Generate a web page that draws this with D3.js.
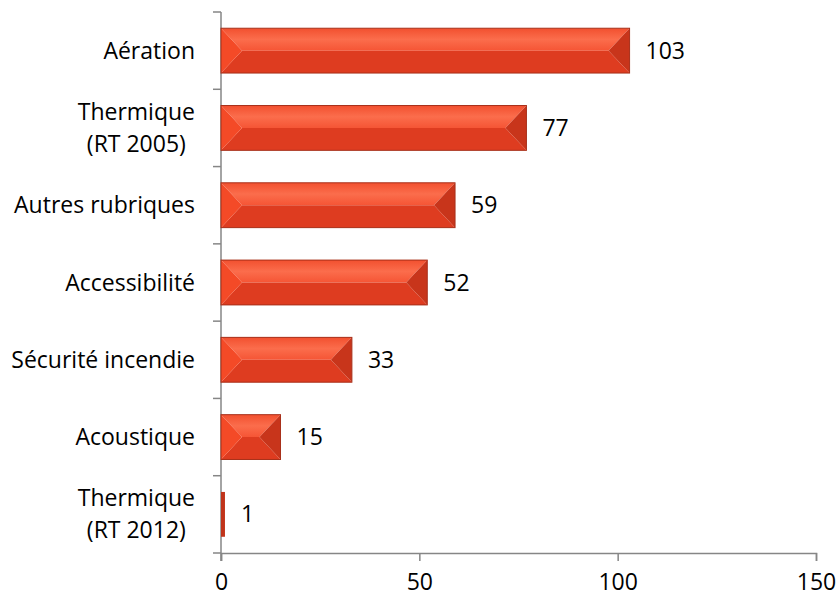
<!DOCTYPE html>
<html>
<head>
<meta charset="utf-8">
<script src="https://cdn.jsdelivr.net/npm/d3@7"></script>
<style>
  body { margin: 0; background: #fff; }
  #chart-wrapper { width: 838px; height: 598px; }
</style>
</head>
<body>
<div id="chart-wrapper"></div>
<script>
// Data
const categories = [["Aération"], ["Thermique", "(RT 2005)"], ["Autres rubriques"], ["Accessibilité"],
  ["Sécurité incendie"], ["Acoustique"], ["Thermique", "(RT 2012)"]]
const values = [103, 77, 59, 52, 33, 15, 1]
const xTicks = [0, 50, 100, 150]

const width = 838
const height = 598
const margin = {top: 12, left: 221, right: 22, bottom: 45}
const font = "'Open Sans', sans-serif"
const fontSize = 23

const svg = d3.select("#chart-wrapper").append("svg")
  .attr("width", width).attr("height", height)

const keys = categories.map(c => c.join(" "))
const xScale = d3.scaleLinear().domain([0, 150]).range([margin.left, width - margin.right])
const yScale = d3.scaleBand().domain(keys).range([margin.top, height - margin.bottom]).paddingInner(0.42).paddingOuter(0.21)
const step = yScale.step()

// Axes
const axisColor = "#868686"
const xAxis = svg.append("g")
  .attr("transform", `translate(0,${height - margin.bottom})`)
  .call(d3.axisBottom(xScale).tickValues(xTicks).tickSizeInner(8).tickSizeOuter(8).tickPadding(13))
xAxis.selectAll("line,path").attr("stroke", axisColor).attr("stroke-width", 1.5)
xAxis.selectAll("text").attr("font-size", fontSize).attr("font-family", font).attr("fill", "#000")

// y axis line with ticks at band edges
const yAxis = svg.append("g")
yAxis.append("line")
  .attr("x1", margin.left).attr("x2", margin.left)
  .attr("y1", margin.top).attr("y2", height - margin.bottom + 8)
  .attr("stroke", axisColor).attr("stroke-width", 1.5)
d3.range(keys.length + 1).forEach(i => {
  const y = margin.top + i * step
  yAxis.append("line").attr("x1", margin.left - 8).attr("x2", margin.left)
    .attr("y1", y).attr("y2", y).attr("stroke", axisColor).attr("stroke-width", 1.5)
})

// Category labels: multi-line labels are centred inside a right-aligned block
const labelRight = margin.left - 26
categories.forEach((lines, i) => {
  const cy = yScale(keys[i]) + yScale.bandwidth() / 2
  const t = svg.append("text")
    .attr("font-size", fontSize).attr("font-family", font).attr("fill", "#000")
  const spans = lines.map((l, j) => t.append("tspan")
    .attr("y", cy + (j - (lines.length - 1) / 2) * 32)
    .attr("dy", "0.35em").text(l))
  const maxW = d3.max(spans, s => s.node().getComputedTextLength())
  spans.forEach(s => s.attr("x", labelRight - maxW / 2).attr("text-anchor", "middle"))
})

// Gradient for top face
const defs = svg.append("defs")
const g1 = defs.append("linearGradient").attr("id", "topFace").attr("x1", 0).attr("x2", 0).attr("y1", 0).attr("y2", 1)
g1.append("stop").attr("offset", "0%").attr("stop-color", "#f2502f")
g1.append("stop").attr("offset", "50%").attr("stop-color", "#fb6d4c")
g1.append("stop").attr("offset", "100%").attr("stop-color", "#f55535")

// Bevelled bars
const bars = svg.append("g")
values.forEach((v, i) => {
  const x0 = xScale(0), x1 = xScale(v)
  const y0 = yScale(keys[i]), h = yScale.bandwidth(), y1 = y0 + h
  const w = x1 - x0
  const g = bars.append("g")
  if (w < 8) {
    g.append("rect").attr("x", x0).attr("y", y0).attr("width", w).attr("height", h).attr("fill", "#c0331a")
  } else {
    const b = Math.min(21, w / 2)
    const ym = y0 + h / 2
    const poly = pts => pts.map(p => p.join(",")).join(" ")
    g.append("polygon").attr("points", poly([[x0, y0], [x1, y0], [x1 - b, ym], [x0 + b, ym]])).attr("fill", "url(#topFace)")
    g.append("polygon").attr("points", poly([[x0, y1], [x1, y1], [x1 - b, ym], [x0 + b, ym]])).attr("fill", "#de3c20")
    g.append("polygon").attr("points", poly([[x0, y0], [x0 + b, ym], [x0, y1]])).attr("fill", "#f44a27")
    g.append("polygon").attr("points", poly([[x1, y0], [x1 - b, ym], [x1, y1]])).attr("fill", "#c8351b")
    g.append("rect").attr("x", x0).attr("y", y0).attr("width", w).attr("height", h)
      .attr("fill", "none").attr("stroke", "#a8301a").attr("stroke-width", 1)
  }
  svg.append("text")
    .attr("x", x1 + 16).attr("y", y0 + h / 2).attr("dy", "0.35em")
    .attr("font-size", fontSize).attr("font-family", font).attr("fill", "#000")
    .text(v)
})
</script>
</body>
</html>
